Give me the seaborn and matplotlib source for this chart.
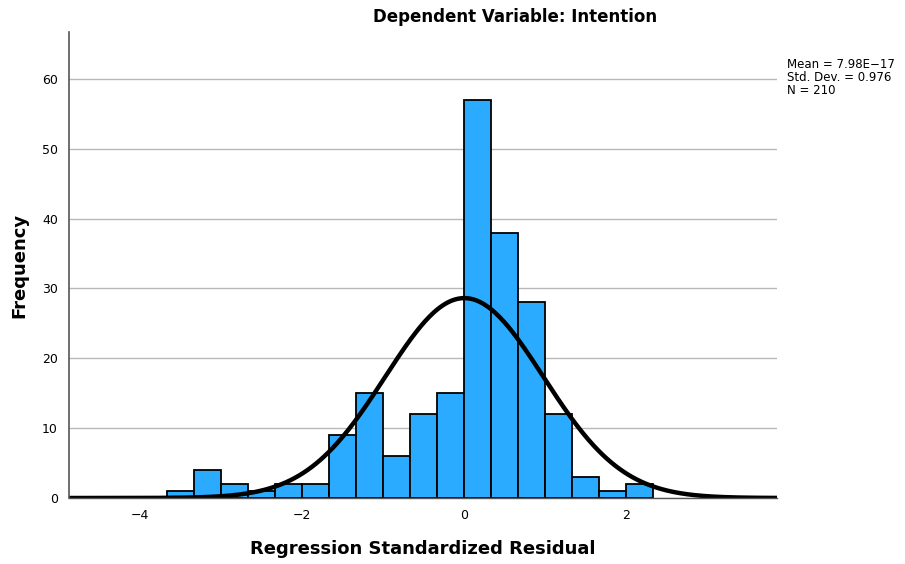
import numpy as np
import pandas as pd
import matplotlib
matplotlib.use("Agg")
import matplotlib.pyplot as plt
import seaborn as sns

# Data
bin_width = 1 / 3
bin_start = -11 / 3
counts = [1, 4, 2, 1, 2, 2, 9, 15, 6, 12, 15, 57, 38, 28, 12, 3, 1, 2]
mean_val = 7.98e-17
sd_val = 0.976
n_val = 210
x_ticks = [-4, -2, 0, 2]
y_ticks = [0, 10, 20, 30, 40, 50, 60]

edges = bin_start + bin_width * np.arange(len(counts) + 1)
centers = (edges[:-1] + edges[1:]) / 2
df = pd.DataFrame({"resid": centers, "count": counts})

sns.set_style("white")
plt.rcParams["font.family"] = ["DejaVu Sans"]
plt.rcParams["text.color"] = "black"
plt.rcParams["axes.labelcolor"] = "black"
plt.rcParams["xtick.color"] = "black"
plt.rcParams["ytick.color"] = "black"

fig = plt.figure(figsize=(9.05, 5.64), dpi=100)
ax = fig.add_axes([69 / 905, 1 - 498 / 564, (777 - 69) / 905, (498 - 32) / 564])

ax.set_axisbelow(True)
ax.yaxis.grid(True, color="#b8b8b8", linewidth=1)
ax.xaxis.grid(False)

sns.histplot(data=df, x="resid", weights="count", bins=[float(e) for e in edges], ax=ax,
             color="#2aabff", edgecolor="black", linewidth=1.3, alpha=1)

xs = np.linspace(-4.88, 3.86, 500)
pdf = n_val * bin_width * np.exp(-0.5 * ((xs - mean_val) / sd_val) ** 2) / (sd_val * np.sqrt(2 * np.pi))
ax.plot(xs, pdf, color="black", linewidth=3.2)

ax.set_xlim(-4.88, 3.86)
ax.set_ylim(0, 66.7)
ax.set_xticks(x_ticks)
ax.set_xticklabels([f"{t}".replace("-", "\u2212") for t in x_ticks], fontsize=9)
ax.set_yticks(y_ticks)
ax.set_yticklabels([str(t) for t in y_ticks], fontsize=9)
ax.tick_params(axis="both", length=0, pad=8)

for s in ["top", "right"]:
    ax.spines[s].set_visible(False)
ax.spines["left"].set_color("#555555")
ax.spines["left"].set_linewidth(1.2)
ax.spines["bottom"].set_color("#555555")
ax.spines["bottom"].set_linewidth(1.0)

ax.set_xlabel("Regression Standardized Residual", fontsize=13, fontweight="bold", labelpad=13)
ax.set_ylabel("Frequency", fontsize=13, fontweight="bold", labelpad=10)

fig.text(515 / 905, 1 - 17 / 564, "Dependent Variable: Intention", ha="center", va="center",
         fontsize=12, fontweight="bold")

fig.text(787 / 905, 1 - 58 / 564,
         f"Mean = 7.98E\u221217\nStd. Dev. = {sd_val}\nN = {n_val}",
         ha="left", va="top", fontsize=8.5, linespacing=1.0)

fig.savefig("out.png", dpi=100)
